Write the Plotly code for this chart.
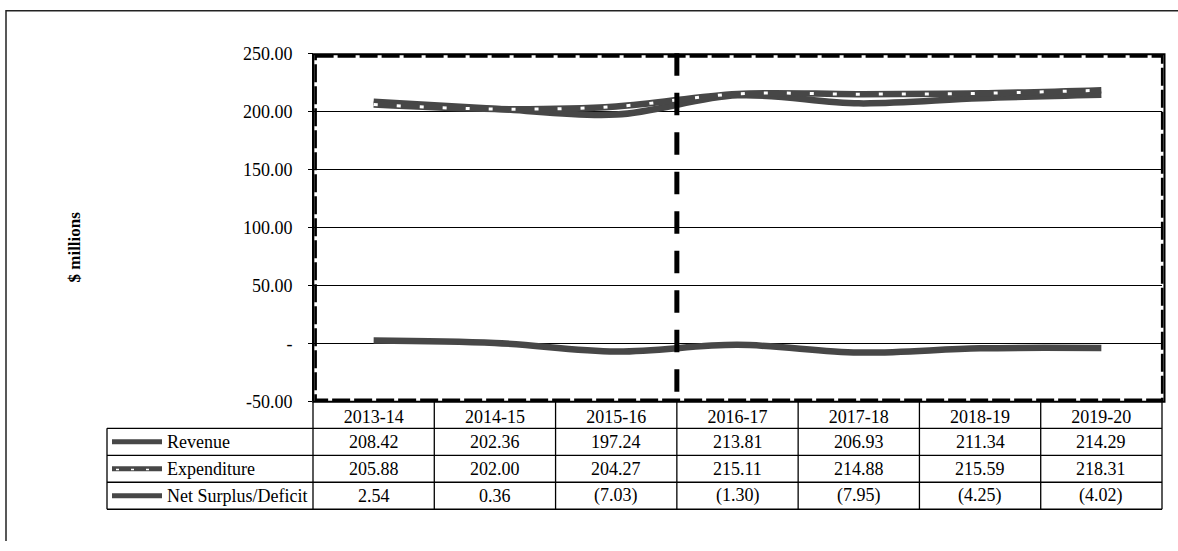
import plotly.graph_objects as go

# ---- data -------------------------------------------------------------
years = ["2013-14", "2014-15", "2015-16", "2016-17", "2017-18", "2018-19", "2019-20"]
revenue = [208.42, 202.36, 197.24, 213.81, 206.93, 211.34, 214.29]
expenditure = [205.88, 202.00, 204.27, 215.11, 214.88, 215.59, 218.31]
net_surplus = [2.54, 0.36, -7.03, -1.30, -7.95, -4.25, -4.02]
series_names = ["Revenue", "Expenditure", "Net Surplus/Deficit"]
y_ticks = [-50, 0, 50, 100, 150, 200, 250]
y_tick_text = ["-50.00", "-", "50.00", "100.00", "150.00", "200.00", "250.00"]
split_after = 2  # index of the last actual year (2015-16)

# ---- layout geometry (screen pixels) -----------------------------------
W, H = 1178, 551
V_SCALE, V_OFFSET = 0.9647, 9.25   # screen y = V_SCALE * figure y + V_OFFSET
PLOT_L, PLOT_R, PLOT_T, PLOT_B = 313, 1162, 52.7, 401
TABLE_L = 107
ROW_H = 27
KEY_X0, KEY_X1, LABEL_X = 112, 162, 165
GREY = "#474747"
FONT = "Liberation Serif"
FS = 18


def px(v):
    return v / W


def fig_y(v):
    return (v - V_OFFSET) / V_SCALE


def py(v):
    return 1 - fig_y(v) / H


def vlen(v):
    return v / V_SCALE


def col_edge(i):
    # left edge of category column i, in pixels
    return PLOT_L + i * (PLOT_R - PLOT_L) / len(years)


def fmt(v):
    return f"({abs(v):.2f})" if v < 0 else f"{v:.2f}"


fig = go.Figure()

line_style = dict(color=GREY, width=6.5, shape="spline", smoothing=1)
fig.add_trace(go.Scatter(x=years, y=revenue, mode="lines", line=line_style,
                         name=series_names[0], hoverinfo="skip"))
fig.add_trace(go.Scatter(x=years, y=expenditure, mode="lines", line=line_style,
                         name=series_names[1], hoverinfo="skip"))
fig.add_trace(go.Scatter(x=years, y=expenditure, mode="lines",
                         line=dict(color="white", width=3, shape="spline",
                                   smoothing=1, dash="4px,19px"),
                         showlegend=False, hoverinfo="skip"))
fig.add_trace(go.Scatter(x=years, y=net_surplus, mode="lines", line=line_style,
                         name=series_names[2], hoverinfo="skip"))

shapes = []
annotations = []

# outer frame (left and top edges; the rest runs past the page)
frame_top = 1 - 0.8 / H
shapes.append(dict(type="path", xref="paper", yref="paper",
                   path=f"M {px(6)} 0 L {px(6)} {frame_top} L 1 {frame_top}",
                   line=dict(color="#222", width=1.5), layer="below"))

# plot area border: solid outer edge with dashed inner band
shapes.append(dict(type="rect", xref="paper", yref="paper",
                   x0=px(PLOT_L + 0.3), x1=px(1164.5), y0=py(PLOT_T + 0.8), y1=py(401.5),
                   line=dict(color="black", width=2)))
shapes.append(dict(type="rect", xref="paper", yref="paper",
                   x0=px(PLOT_L + 2.6), x1=px(1162.2), y0=py(PLOT_T + 3), y1=py(399.4),
                   line=dict(color="black", width=2.6, dash="18px,4px")))

# vertical dashed divider between actual and projected years
x_split = px(col_edge(split_after + 1))
shapes.append(dict(type="line", xref="paper", yref="paper",
                   x0=x_split, x1=x_split, y0=py(391.3), y1=py(47),
                   line=dict(color="black", width=5,
                             dash=f"{vlen(21.5):.1f}px,{vlen(16.6):.1f}px")))

# data table grid
table_top = PLOT_B
rows_bottom = table_top + ROW_H * 4
for r in range(1, 5):
    yy = py(table_top + ROW_H * r)
    shapes.append(dict(type="line", xref="paper", yref="paper",
                       x0=px(TABLE_L), x1=px(PLOT_R), y0=yy, y1=yy,
                       line=dict(color="black", width=1.3)))
for i in range(len(years) + 1):
    xx = px(col_edge(i))
    shapes.append(dict(type="line", xref="paper", yref="paper",
                       x0=xx, x1=xx, y0=py(table_top), y1=py(rows_bottom),
                       line=dict(color="black", width=1.3)))
shapes.append(dict(type="line", xref="paper", yref="paper",
                   x0=px(TABLE_L), x1=px(TABLE_L),
                   y0=py(table_top + ROW_H), y1=py(rows_bottom),
                   line=dict(color="black", width=1.3)))

# table rows: legend key, series name, values
table_rows = [revenue, expenditure, net_surplus]
for r, (name, vals) in enumerate(zip(series_names, table_rows)):
    yc = table_top + ROW_H * (r + 1) + ROW_H / 2
    shapes.append(dict(type="line", xref="paper", yref="paper",
                       x0=px(KEY_X0), x1=px(KEY_X1), y0=py(yc), y1=py(yc),
                       line=dict(color=GREY, width=5)))
    if r == 1:
        shapes.append(dict(type="line", xref="paper", yref="paper",
                           x0=px(KEY_X0 + 4), x1=px(KEY_X1 - 2), y0=py(yc + 0.8), y1=py(yc + 0.8),
                           line=dict(color="white", width=1.5, dash="3px,12px")))
    annotations.append(dict(xref="paper", yref="paper", x=px(LABEL_X), y=py(yc),
                            text=name, showarrow=False, xanchor="left", yanchor="middle",
                            font=dict(family=FONT, size=FS, color="black")))
    for i, v in enumerate(vals):
        annotations.append(dict(xref="x", yref="paper", x=i, y=py(yc),
                                text=fmt(v), showarrow=False,
                                xanchor="center", yanchor="middle",
                                font=dict(family=FONT, size=FS, color="black")))

# y axis title
annotations.append(dict(xref="paper", yref="paper", x=px(75), y=py(247),
                        text="<b>$ millions</b>", textangle=-90, showarrow=False,
                        xanchor="center", yanchor="middle",
                        font=dict(family=FONT, size=17, color="black")))

fig.update_layout(
    width=W, height=H, autosize=False,
    margin=dict(l=0, r=0, t=0, b=0),
    paper_bgcolor="white", plot_bgcolor="white",
    showlegend=False,
    font=dict(family=FONT, size=FS, color="black"),
    shapes=shapes, annotations=annotations,
    xaxis=dict(domain=[px(PLOT_L), px(PLOT_R)], type="category",
               range=[-0.5, len(years) - 0.5], showgrid=False, zeroline=False,
               showline=False, ticks="", ticklabelstandoff=3,
               tickfont=dict(family=FONT, size=FS, color="black")),
    yaxis=dict(domain=[py(PLOT_B), py(PLOT_T)], range=[-50, 250],
               tickvals=y_ticks, ticktext=y_tick_text,
               showgrid=True, gridcolor="black", gridwidth=1,
               zeroline=True, zerolinecolor="black", zerolinewidth=1,
               showline=True, linecolor="black", linewidth=1,
               ticks="outside", ticklen=4, tickcolor="black",
               ticklabelstandoff=12,
               tickfont=dict(family=FONT, size=FS, color="black")),
)

fig.write_html("out.html")
